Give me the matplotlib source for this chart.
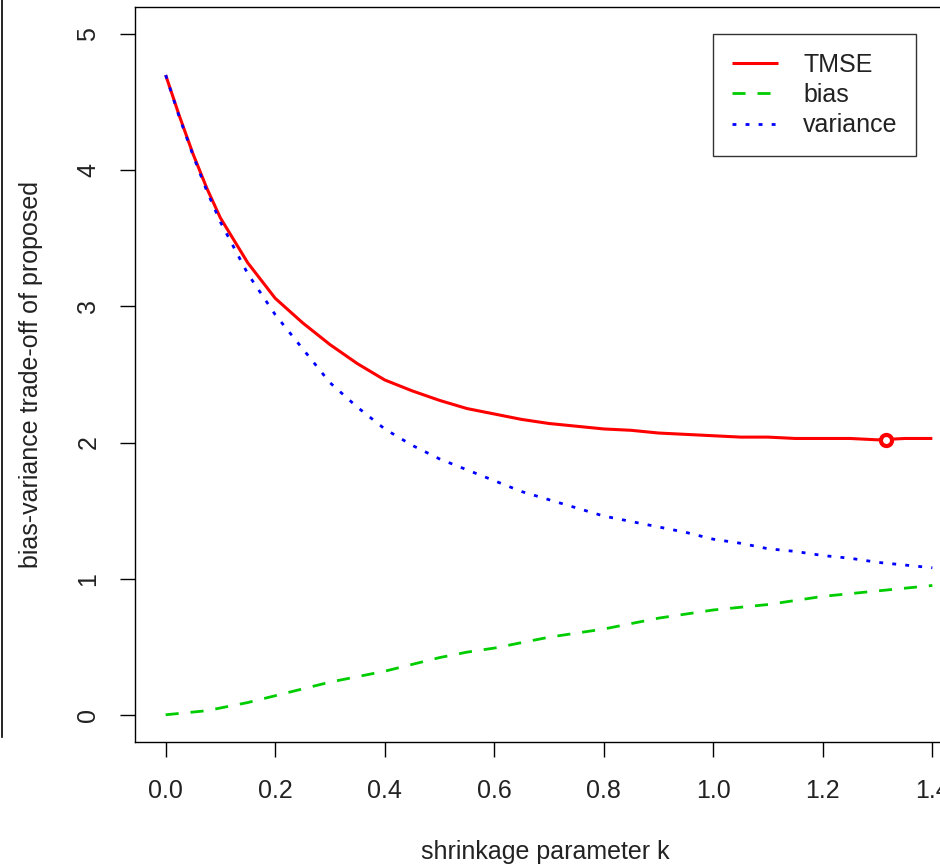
import matplotlib
import matplotlib.pyplot as plt
from matplotlib.lines import Line2D
import numpy as np

matplotlib.use('Agg')

plt.rcParams['font.family'] = ['Liberation Sans', 'DejaVu Sans']

# shrinkage grid and the three curves
k = [0.000, 0.025, 0.05, 0.075, 0.10, 0.15, 0.20, 0.25, 0.30, 0.35, 0.40, 0.45,
     0.50, 0.55, 0.60, 0.65, 0.70, 0.75, 0.80, 0.85, 0.90, 0.95,
     1.00, 1.05, 1.10, 1.15, 1.20, 1.25, 1.30, 1.35, 1.40]
tmse = [4.70, 4.40, 4.12, 3.87, 3.65, 3.32, 3.06, 2.88, 2.72, 2.58, 2.46, 2.38,
        2.31, 2.25, 2.21, 2.17, 2.14, 2.12, 2.10, 2.09, 2.07, 2.06,
        2.05, 2.04, 2.04, 2.03, 2.03, 2.03, 2.02, 2.03, 2.03]
bias = [0.00, 0.01, 0.02, 0.03, 0.05, 0.09, 0.14, 0.19, 0.24, 0.28, 0.32, 0.37,
        0.42, 0.46, 0.49, 0.53, 0.57, 0.60, 0.63, 0.67, 0.71, 0.74,
        0.77, 0.79, 0.81, 0.84, 0.87, 0.89, 0.91, 0.93, 0.95]
variance = [4.70, 4.39, 4.11, 3.85, 3.62, 3.24, 2.94, 2.69, 2.44, 2.26, 2.10, 1.98,
            1.88, 1.80, 1.72, 1.64, 1.58, 1.52, 1.46, 1.42, 1.38, 1.34,
            1.29, 1.26, 1.22, 1.20, 1.17, 1.15, 1.12, 1.10, 1.08]

# optimal k (minimum TMSE)
k_opt = 1.315
tmse_opt = 2.02

xticks = [0.0, 0.2, 0.4, 0.6, 0.8, 1.0, 1.2, 1.4]
yticks = [0, 1, 2, 3, 4, 5]

W, H = 940, 866
fig = plt.figure(figsize=(W / 100, H / 100), dpi=100)
ax = fig.add_axes([135 / W, 1 - 742 / H, (963 - 135) / W, (742 - 7) / H])

ax.plot(k, tmse, color='#FF0000', lw=2.2, solid_capstyle='butt', label='TMSE')
ax.plot(k, bias, color='#00CD00', lw=2.0, dashes=(4.7, 4.3), label='bias')
ax.plot(k, variance, color='#0000FF', lw=2.0, dashes=(1.4, 3.3), label='variance')
ax.plot([k_opt], [tmse_opt], marker='o', ms=8, mfc='white', mec='#FF0000',
        mew=3, ls='none')

ax.set_xlim(-0.056, 1.456)
ax.set_ylim(-0.2, 5.2)
ax.set_xticks(xticks)
ax.set_xticklabels([f'{v:.1f}' for v in xticks])
ax.set_yticks(yticks)
ax.set_yticklabels([str(v) for v in yticks], rotation=90, va='center')
ax.tick_params(axis='both', length=11, width=1.0, color='black',
               labelsize=18, labelcolor='#222222')
ax.tick_params(axis='x', pad=16)
ax.tick_params(axis='y', pad=14)
for s in ax.spines.values():
    s.set_linewidth(1.0)
    s.set_color('black')

leg = ax.legend(loc='upper left', bbox_to_anchor=((713 - 135) / 828, 1 - 27 / 735),
                fontsize=18, frameon=True, fancybox=False, handlelength=1.85,
                handletextpad=1.0, labelspacing=0.25, borderpad=0.75,
                borderaxespad=0.0)
leg.get_frame().set_edgecolor('black')
leg.get_frame().set_linewidth(1.0)
for t in leg.get_texts():
    t.set_color('#222222')

fig.text(545 / W, 1 - 852 / H, 'shrinkage parameter k', ha='center', va='center',
         fontsize=18, color='#222222')
fig.text(31 / W, 1 - 375 / H, 'bias-variance trade-off of proposed', ha='center',
         va='center', rotation=90, fontsize=18, color='#222222')

# border line at the left edge
fig.add_artist(Line2D([1.5 / W, 1.5 / W], [1.0, 1 - 737 / H], color='black', lw=1.2))

fig.savefig('out.png', dpi=100)
